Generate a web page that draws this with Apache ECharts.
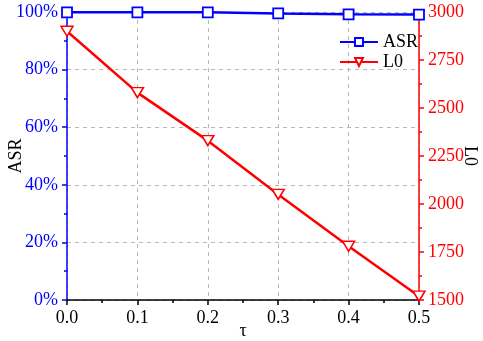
<!DOCTYPE html>
<html>
<head>
<meta charset="utf-8">
<script src="https://cdn.jsdelivr.net/npm/echarts@6/dist/echarts.min.js"></script>
<style>
  html, body { margin: 0; padding: 0; background: #fff; }
  #chart { width: 483px; height: 341px; }
</style>
</head>
<body>
<div id="chart"></div>
<script>
const tau = [0.0, 0.1, 0.2, 0.3, 0.4, 0.5]
const asr = [99.9, 99.9, 99.9, 99.5, 99.2, 99.1]
const l0 = [2900, 2580, 2330, 2050, 1780, 1520]

const font = '"Liberation Serif", "DejaVu Serif", serif'
const blue = '#0000ff'
const red = '#ff0000'

const chart = echarts.init(document.getElementById('chart'))

const option = {
  backgroundColor: '#fff',
  animation: false,
  grid: {
    left: 67, right: 64, top: 12, bottom: 41,
    containLabel: false,
    outerBoundsMode: 'none',
  },
  legend: {
    orient: 'vertical',
    right: 60,
    top: 28,
    itemWidth: 38,
    itemHeight: 10,
    itemGap: 2,
    textStyle: { fontFamily: font, fontSize: 18, color: '#000' },
    data: ['ASR', 'L0'],
  },
  xAxis: {
    type: 'value',
    min: 0,
    max: 0.5,
    interval: 0.1,
    name: 'τ',
    nameLocation: 'middle',
    nameGap: 22,
    nameMoveOverlap: false,
    nameTextStyle: { fontFamily: font, fontSize: 18, color: '#000' },
    axisLine: { show: true, lineStyle: { color: '#000', width: 1.5 } },
    axisTick: { show: true, inside: false, length: 5, lineStyle: { color: '#000', width: 1.5 } },
    minorTick: { show: true, splitNumber: 2, length: 3, lineStyle: { color: '#000', width: 1.5 } },
    axisLabel: {
      fontFamily: font, fontSize: 18, color: '#000', margin: 9,
      formatter: (v) => v.toFixed(1),
    },
    splitLine: { show: true, lineStyle: { color: '#b8b8b8', type: [4, 4], width: 1 } },
  },
  yAxis: [
    {
      type: 'value',
      min: 0,
      max: 100,
      interval: 20,
      name: 'ASR',
      nameLocation: 'middle',
      nameGap: 42,
      nameRotate: 90,
      nameMoveOverlap: false,
      nameTextStyle: { fontFamily: font, fontSize: 18, color: '#000' },
      axisLine: { show: true, lineStyle: { color: blue, width: 1.5 } },
      axisTick: { show: true, inside: false, length: 5, lineStyle: { color: blue, width: 1.5 } },
      minorTick: { show: true, splitNumber: 2, length: 3, lineStyle: { color: blue, width: 1.5 } },
      axisLabel: { fontFamily: font, fontSize: 18, color: blue, margin: 9, formatter: '{value}%' },
      splitLine: { show: true, lineStyle: { color: '#b8b8b8', type: [4, 4], width: 1 } },
    },
    {
      type: 'value',
      min: 1500,
      max: 3000,
      interval: 250,
      position: 'right',
      name: 'L0',
      nameLocation: 'middle',
      nameGap: 42,
      nameRotate: -90,
      nameMoveOverlap: false,
      nameTextStyle: { fontFamily: font, fontSize: 18, color: '#000' },
      axisLine: { show: true, lineStyle: { color: red, width: 1.5 } },
      axisTick: { show: true, inside: false, length: 5, lineStyle: { color: red, width: 1.5 } },
      minorTick: { show: true, splitNumber: 2, length: 3, lineStyle: { color: red, width: 1.5 } },
      axisLabel: { fontFamily: font, fontSize: 18, color: red, margin: 9, formatter: (v) => String(v) },
      splitLine: { show: false },
    },
  ],
  series: [
    {
      name: 'ASR',
      type: 'line',
      yAxisIndex: 0,
      data: tau.map((t, i) => [t, asr[i]]),
      symbol: 'rect',
      symbolSize: 10,
      lineStyle: { color: blue, width: 2.5 },
      itemStyle: { color: '#fff', borderColor: blue, borderWidth: 1.8 },
      z: 3,
    },
    {
      name: 'L0',
      type: 'line',
      yAxisIndex: 1,
      data: tau.map((t, i) => [t, l0[i]]),
      symbol: 'path://M0,0 L12,0 L6,10 Z',
      symbolSize: [12, 10],
      lineStyle: { color: red, width: 2.5 },
      itemStyle: { color: '#fff', borderColor: red, borderWidth: 1.5 },
      z: 2,
    },
  ],
}

chart.setOption(option)
</script>
</body>
</html>
